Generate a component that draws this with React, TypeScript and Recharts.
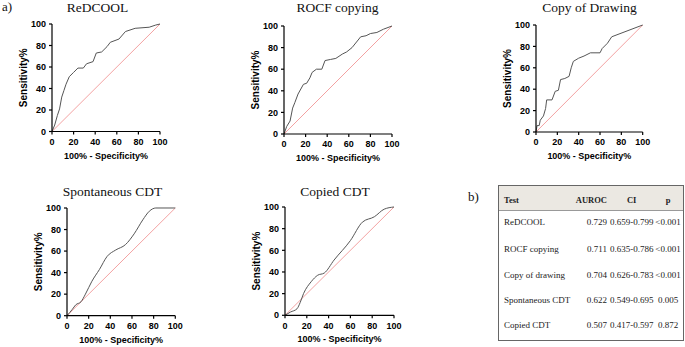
import { LineChart, Line, XAxis, YAxis, ReferenceLine, Label } from 'recharts'

// ROC curves: false positive rate (100% - specificity) and sensitivity
const redcoolFpr = [0, 2.5, 5, 7, 9, 11, 13, 16, 20, 24, 29, 32, 38, 41, 46, 51, 54, 62, 68, 77, 90, 96, 100]
const redcoolTpr = [0, 6, 15, 21, 32, 38, 44, 51, 55, 59, 59, 63, 65, 73, 74, 79, 83, 86, 93, 96, 97, 99, 100]

const rocfFpr = [0, 2.5, 5.6, 8, 10, 13, 18, 21, 24, 26, 30, 35, 38, 43, 48, 54, 58, 63, 71, 76, 80, 86, 92, 100]
const rocfTpr = [0, 7, 12, 24, 29, 37, 46, 47, 52, 57, 60, 60, 68, 69, 70, 74, 76, 80, 90, 91, 93, 94, 97, 100]

const drawingFpr = [0, 1, 3, 4, 7, 9, 10, 15, 18, 21, 23, 27, 31, 33, 35, 40, 45, 51, 60, 62, 67, 71, 100]
const drawingTpr = [0, 6, 6, 11, 15, 22, 30, 30, 38, 39, 49, 50, 52, 60, 66, 69, 71, 74, 74, 78, 83, 89, 100]

const spontFpr = [0, 5, 8, 13, 17, 23, 30, 37, 45, 54, 62, 70, 76, 82, 100]
const spontTpr = [0, 6, 10, 13, 20, 32, 43, 55, 61, 66, 76, 89, 97, 100, 100]

const copiedFpr = [0, 5, 11, 14, 17, 24, 30, 36, 45, 60, 71, 82, 91, 100]
const copiedTpr = [0, 3, 6, 12, 20, 31, 37, 39, 51, 69, 86, 91, 98, 100]

const axisTicks = [0, 20, 40, 60, 80, 100]

const tableHeader = ['Test', 'AUROC', 'CI', 'p']
const testNames = ['ReDCOOL', 'ROCF copying', 'Copy of drawing', 'Spontaneous CDT', 'Copied CDT']
const aurocs = ['0.729', '0.711', '0.704', '0.622', '0.507']
const cis = ['0.659-0.799', '0.635-0.786', '0.626-0.783', '0.549-0.695', '0.417-0.597']
const pValues = ['<0.001', '<0.001', '<0.001', '0.005', '0.872']

const sans = '"Liberation Sans", Arial, sans-serif'
const serif = '"Liberation Serif", "Times New Roman", serif'

const build = (fpr: number[], tpr: number[]) => fpr.map((x, i) => ({ x, y: tpr[i] }))

const charts = [
  { title: 'ReDCOOL', data: build(redcoolFpr, redcoolTpr), curve: 'linear', x0: 51.5, x1: 159.5, yT: 23.5, yB: 131, tx: 97.5, ty: 8 },
  { title: 'ROCF copying', data: build(rocfFpr, rocfTpr), curve: 'linear', x0: 284, x1: 392, yT: 25.5, yB: 133.5, tx: 337.5, ty: 8 },
  { title: 'Copy of Drawing', data: build(drawingFpr, drawingTpr), curve: 'linear', x0: 536, x1: 642.7, yT: 25.3, yB: 132.3, tx: 589.5, ty: 8 },
  { title: 'Spontaneous CDT', data: build(spontFpr, spontTpr), curve: 'monotone', x0: 66.7, x1: 175, yT: 208.3, yB: 316, tx: 112.5, ty: 192 },
  { title: 'Copied CDT', data: build(copiedFpr, copiedTpr), curve: 'monotone', x0: 285.3, x1: 394.3, yT: 207, yB: 315.3, tx: 335, ty: 192 },
]

const tickStyle = { fontSize: 9, fontWeight: 'bold', fill: '#000', fontFamily: sans }

const Roc = ({ c }: { c: any }) => {
  const yw = 34
  const xh = 30
  const mt = 6
  const mr = 8
  return (
    <>
      <div
        style={{
          position: 'absolute',
          left: c.tx - 80,
          width: 160,
          top: c.ty - 9,
          height: 18,
          lineHeight: '18px',
          textAlign: 'center',
          fontFamily: serif,
          fontSize: 13.5,
          color: '#111',
        }}
      >
        {c.title}
      </div>
      <div style={{ position: 'absolute', left: c.x0 - yw, top: c.yT - mt }}>
        <LineChart
          width={c.x1 - c.x0 + yw + mr}
          height={c.yB - c.yT + mt + xh}
          data={c.data}
          margin={{ top: mt, right: mr, bottom: 0, left: 0 }}
        >
          <XAxis
            type="number"
            dataKey="x"
            domain={[0, 100]}
            ticks={axisTicks}
            height={xh}
            tickSize={3}
            tickMargin={4}
            stroke="#000"
            strokeWidth={1.2}
            tick={tickStyle}
            interval={0}
          >
            <Label
              value="100% - Specificity%"
              position="insideBottom"
              offset={3}
              style={{ fontSize: 9, fontWeight: 'bold', fill: '#000', fontFamily: sans }}
            />
          </XAxis>
          <YAxis
            type="number"
            domain={[0, 100]}
            ticks={axisTicks}
            width={yw}
            tickSize={3}
            tickMargin={3}
            stroke="#000"
            strokeWidth={1.2}
            tick={tickStyle}
            interval={0}
          >
            <Label
              value="Sensitivity%"
              angle={-90}
              position="insideLeft"
              offset={5.5}
              style={{ fontSize: 10, fontWeight: 'bold', fill: '#000', fontFamily: sans, textAnchor: 'middle' }}
            />
          </YAxis>
          <ReferenceLine
            segment={[{ x: 0, y: 0 }, { x: 100, y: 100 }]}
            stroke="#f08a8a"
            strokeWidth={0.8}
          />
          <Line
            type={c.curve}
            dataKey="y"
            stroke="#555"
            strokeWidth={1}
            dot={false}
            isAnimationActive={false}
          />
        </LineChart>
      </div>
    </>
  )
}

const rowCenters = [35.5, 63, 88.5, 114, 139]

const Table = () => {
  const cell = (text: string, left: number, width: number, top: number, align: any, size: number, bold = false) => (
    <div
      style={{
        position: 'absolute',
        left,
        width,
        top: top - 7,
        height: 14,
        lineHeight: '14px',
        textAlign: align,
        fontFamily: serif,
        fontSize: size,
        fontWeight: bold ? 'bold' : 'normal',
        color: '#222',
        whiteSpace: 'nowrap',
      }}
    >
      {text}
    </div>
  )
  return (
    <div
      style={{
        position: 'absolute',
        left: 498,
        top: 185,
        width: 184,
        height: 154,
        border: '1px solid #666',
        background: '#fff',
      }}
    >
      <div style={{ position: 'absolute', left: 0, top: 0, width: 184, height: 24, background: '#ebe8e2', borderBottom: '1px solid #999' }} />
      {cell(tableHeader[0], 5, 60, 14, 'left', 8.5, true)}
      {cell(tableHeader[1], 70, 38, 14, 'right', 8.5, true)}
      {cell(tableHeader[2], 112.7, 40, 14, 'center', 8.5, true)}
      {cell(tableHeader[3], 154, 30, 14, 'center', 8.5, true)}
      {testNames.map((name, i) => (
        <div key={name}>
          {cell(name, 5, 70, rowCenters[i], 'left', 9)}
          {cell(aurocs[i], 70, 38, rowCenters[i], 'right', 9)}
          {cell(cis[i], 109.7, 46, rowCenters[i], 'center', 9)}
          {cell(pValues[i], 152, 34, rowCenters[i], 'center', 9)}
        </div>
      ))}
    </div>
  )
}

export default function App() {
  return (
    <div style={{ position: 'absolute', left: 0, top: 0, width: 685, height: 347, background: '#fff', overflow: 'hidden' }}>
      <div style={{ position: 'absolute', left: 2, top: 0, fontFamily: serif, fontSize: 13, color: '#111', lineHeight: '14px' }}>a)</div>
      <div style={{ position: 'absolute', left: 468, top: 190, fontFamily: serif, fontSize: 13, color: '#111', lineHeight: '14px' }}>b)</div>
      {charts.map((c) => (
        <Roc key={c.title} c={c} />
      ))}
      <Table />
    </div>
  )
}
